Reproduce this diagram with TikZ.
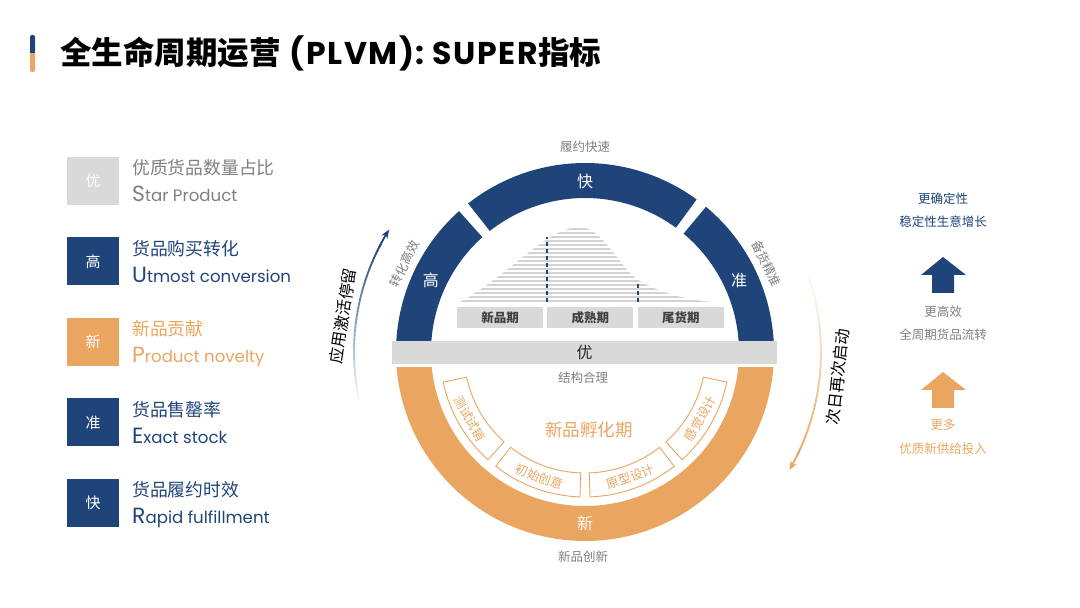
\documentclass[tikz,border=0pt]{standalone}
\usepackage{fontspec}
\setmainfont{Noto Sans CJK SC}
\newfontfamily\latinfont{Poppins}
\newfontfamily\titlelatin[LetterSpace=5]{Poppins}
\usepackage{tikz}
\usepackage{xcolor}
\usetikzlibrary{arrows.meta,positioning,calc}
\definecolor{PN}{HTML}{1F4479}
\definecolor{PO}{HTML}{EAA560}
\definecolor{PG}{HTML}{D9D9D9}
\definecolor{PT}{HTML}{7F7F7F}

\tikzset{
  sq/.style={minimum width=52pt, minimum height=48pt, inner sep=0pt,
             font=\fontsize{15}{15}\selectfont, text=white},
  seg/.style={draw=PO, line width=0.9pt, fill=white},
  segtxt/.style={font=\fontsize{12.5}{12.5}\selectfont, text=PO},
  ringtxt/.style={font=\fontsize{16}{16}\selectfont, text=white},
  small/.style={font=\fontsize{12.5}{12.5}\selectfont, text=PT},
  phase/.style={fill=PG, minimum width=86pt, minimum height=21pt, inner sep=0pt,
                font=\fontsize{12.5}{12.5}\selectfont\bfseries, text=black!75},
}

\begin{document}
\begin{tikzpicture}[x=1pt,y=1pt]
    \useasboundingbox (0,0) rectangle (1080,608);

    %% ── title ────────────────────────────────────────
    \fill[PN, rounded corners=2pt] (30,555) rectangle (35,573);
    \fill[PO, rounded corners=2pt] (30,536) rectangle (35,557);
    \fill[PN] (30,555) rectangle (35,560);
    \node[anchor=west, inner sep=0pt, font=\fontsize{31.5}{31.5}\selectfont\bfseries]
      (title) at (60,555) {全生命周期运营\hspace{9pt}{\titlelatin\bfseries (PLVM): SUPER}指标};

    %% ── legend on the left ───────────────────────────
    \foreach \lab/\cn/\big/\en/\fc/\tc [count=\ii from 0] in {
        优/优质货品数量占比/S/tar Product/PG/PT,
        高/货品购买转化/U/tmost conversion/PN/PN,
        新/新品贡献/P/roduct novelty/PO/PO,
        准/货品售罄率/E/xact stock/PN/PN,
        快/货品履约时效/R/apid fulfillment/PN/PN}{
      \node[sq, fill=\fc] (sq\ii) at (93,427-\ii*80.5) {\lab};
      \node[anchor=west, inner sep=0pt, text=\tc,
            font=\fontsize{17.8}{17.8}\selectfont]
        (cn\ii) at (132,440-\ii*80.5) {\cn};
      \node[anchor=base west, inner sep=0pt, text=\tc]
        (en\ii) at (132,406-\ii*80.5)
        {\latinfont\fontsize{22}{22}\selectfont\big\fontsize{16.6}{16.6}\selectfont\en};
    }

    %% ── ring centre ──────────────────────────────────
    \coordinate (C) at (585,256);

    %% lower orange half ring
    \fill[PO] (C) ++(180:189) arc (180:360:189) -- ++(-35,0)
      arc (360:180:154) -- cycle;

    %% upper navy segments
    \foreach \aa/\bb in {180/131.8, 128.2/53.8, 50.2/0}{
      \fill[PN] (C) ++(\aa:189) arc (\aa:\bb:189) -- ($(C)+(\bb:154)$)
        arc (\bb:\aa:154) -- cycle;
    }
    \node[ringtxt] (kuai) at ($(C)+(90:171)$) {快};
    \node[ringtxt] (gao)  at ($(C)+(155:170)$) {高};
    \node[ringtxt] (zhun) at ($(C)+(25:170)$) {准};
    \node[ringtxt] (xin)  at ($(C)+(270:171)$) {新};

    %% ── gray bar ─────────────────────────────────────
    \fill[white] (380,240.5) rectangle (790,256);
    \node[fill=PG, minimum width=385pt, minimum height=23pt, inner sep=0pt,
          font=\fontsize{16}{16}\selectfont, text=black!85]
      (you) at (584.5,255.5) {优};

    %% ── product curve with stripes ───────────────────
    \begin{scope}
      \clip (460,306) .. controls (505,330) and (545,378) .. (577,381)
        .. controls (603,383) and (618,340) .. (640,327)
        .. controls (662,314) and (690,308) .. (712,306) -- cycle;
      \foreach \yy in {307,311,...,383}{
        \draw[gray!35, line width=1.5pt] (455,\yy) -- (715,\yy);
      }
    \end{scope}
    \draw[PN, line width=1.3pt, dash pattern=on 4pt off 3pt] (547,306) -- (547,371);
    \draw[PN, line width=1.3pt, dash pattern=on 4pt off 3pt] (638,306) -- (638,326);

    \node[phase] (p1) at (500,290.5) {新品期};
    \node[phase, right=4pt of p1] (p2) {成熟期};
    \node[phase, right=4pt of p2] (p3) {尾货期};

    %% ── texts round the ring ─────────────────────────
    \node[small] (lyks) at ($(C)+(90:205)$) {履约快速};
    \node[small, rotate=64] (zhgx) at ($(C)+(154:201)$) {转化高效};
    \node[small, rotate=-64] (bhjz) at ($(C)+(26:202)$) {备货精准};
    \node[small] (jghl) at (583,230) {结构合理};
    \node[small] (xpcx) at (583,51) {新品创新};

    %% ── incubation segments ──────────────────────────
    \foreach \aa/\txt [count=\ss] in {192/测试试销, 232/初始创意, 272/原型设计, 312/感觉设计}{
      \pgfmathsetmacro{\bb}{\aa+36}
      \pgfmathsetmacro{\mm}{\aa+18}
      \draw[seg] (C) ++(\aa:145) arc (\aa:\bb:145) -- ($(C)+(\bb:121)$)
        arc (\bb:\aa:121) -- cycle;
      \node[segtxt, rotate=\mm+90, inner sep=1pt] (s\ss) at ($(C)+(\mm:133)$) {\txt};
    }
    \node[font=\fontsize{17.5}{17.5}\selectfont, text=PO] (fhq) at (589,178) {新品孵化期};

    %% ── gradient arrows ──────────────────────────────
    \foreach \kk in {0,...,39}{
      \pgfmathtruncatemacro{\g}{5+\kk*95/39}
      \draw[PN!\g!white, line width=1.8pt] (C) ++(192-\kk:231) arc (192-\kk:191-\kk-0.2:231);
    }
    \draw[PN, line width=1.8pt, -{Stealth[length=9pt,width=7pt]}]
      (C) ++(153:231) arc (153:148:231);
    \node[font=\fontsize{16}{16}\selectfont, rotate=81] (yyjh)
      at ($(C)+(171.5:245)$) {应用激活停留};

    \foreach \kk in {0,...,44}{
      \pgfmathtruncatemacro{\g}{5+\kk*95/44}
      \draw[PO!\g!white, line width=1.8pt] (C) ++(19-\kk:236) arc (19-\kk:18-\kk-0.2:236);
    }
    \draw[PO, line width=1.8pt, -{Stealth[length=9pt,width=7pt]}]
      (C) ++(-25:236) arc (-25:-30:236);
    \node[font=\fontsize{16}{16}\selectfont, rotate=84] (crzc)
      at ($(C)+(-5.6:254)$) {次日再次启动};

    %% ── right column ─────────────────────────────────
    \node[font=\fontsize{12.5}{12.5}\selectfont, text=PN] (r1) at (943,409) {更确定性};
    \node[font=\fontsize{12.5}{12.5}\selectfont, text=PN] (r2) at (943,386) {稳定性生意增长};
    \fill[PN] (932,315) -- (932,333) -- (921,333) -- (943,351) -- (966,333)
      -- (954,333) -- (954,315) -- cycle;
    \node[small] (r3) at (943,296) {更高效};
    \node[small] (r4) at (943,273) {全周期货品流转};
    \fill[PO] (932,200) -- (932,218) -- (921,218) -- (943,236) -- (966,218)
      -- (954,218) -- (954,200) -- cycle;
    \node[font=\fontsize{12.5}{12.5}\selectfont, text=PO] (r5) at (943,183) {更多};
    \node[font=\fontsize{12.5}{12.5}\selectfont, text=PO] (r6) at (943,159) {优质新供给投入};

  \end{tikzpicture}
\end{document}
